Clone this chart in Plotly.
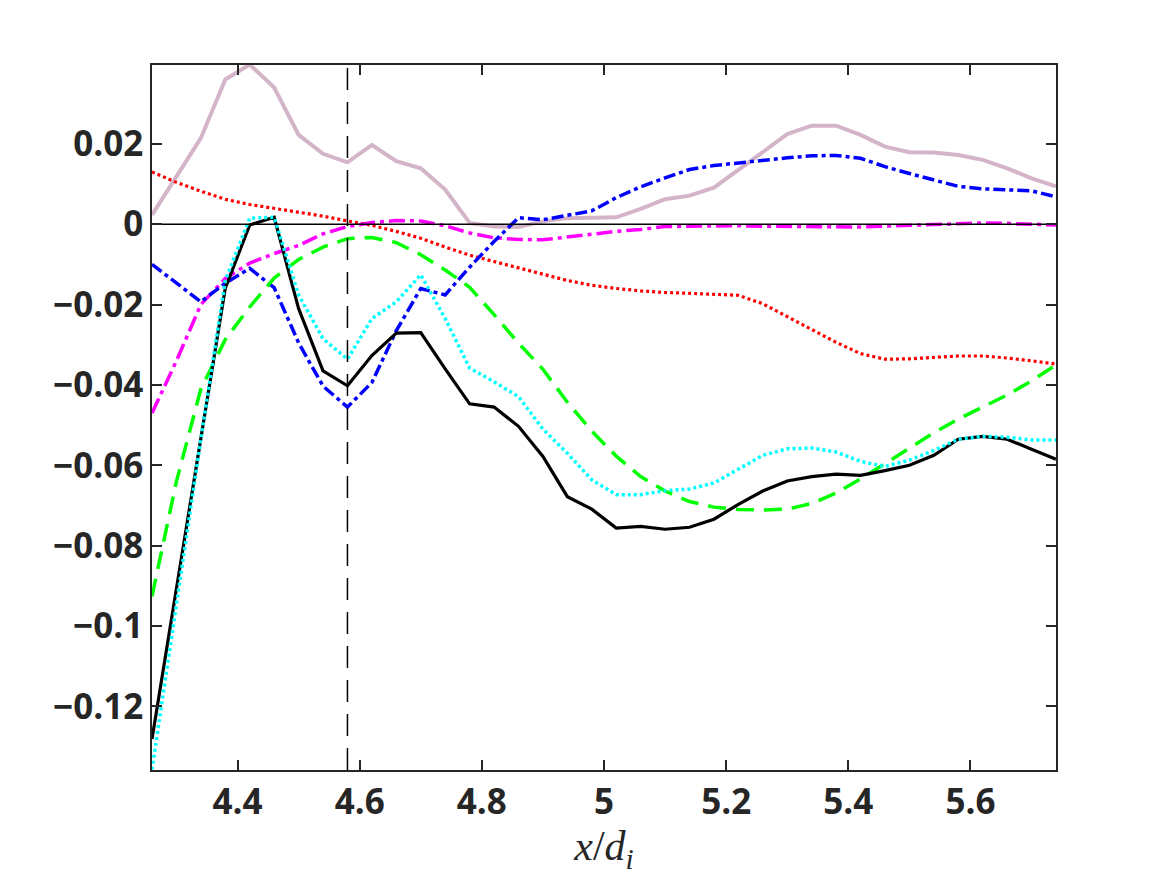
import plotly.graph_objects as go

x = [4.26, 4.30, 4.34, 4.38, 4.42, 4.46, 4.50, 4.54, 4.58, 4.62,
     4.66, 4.70, 4.74, 4.78, 4.82, 4.86, 4.90, 4.94, 4.98, 5.02,
     5.06, 5.10, 5.14, 5.18, 5.22, 5.26, 5.30, 5.34, 5.38, 5.42,
     5.46, 5.50, 5.54, 5.58, 5.62, 5.66, 5.70, 5.74]

pink = [0.0023, 0.0118, 0.0214, 0.0360, 0.0397, 0.0340, 0.0222, 0.0175, 0.0154, 0.0197,
        0.0157, 0.0139, 0.0086, 0.0003, -0.0006, -0.0007, 0.0007, 0.0015, 0.0016, 0.0017,
        0.0038, 0.0062, 0.0071, 0.0091, 0.0135, 0.0180, 0.0224, 0.0245, 0.0245, 0.0222,
        0.0193, 0.0179, 0.0178, 0.0172, 0.0160, 0.0139, 0.0114, 0.0094]

red = [0.0130, 0.0104, 0.0082, 0.0062, 0.0049, 0.0040, 0.0030, 0.0020, 0.0008, -0.0003,
       -0.0018, -0.0035, -0.0057, -0.0077, -0.0093, -0.0109, -0.0125, -0.0140, -0.0152, -0.0160,
       -0.0166, -0.0170, -0.0172, -0.0174, -0.0177, -0.0198, -0.0230, -0.0262, -0.0294, -0.0322,
       -0.0336, -0.0335, -0.0331, -0.0328, -0.0328, -0.0333, -0.0340, -0.0348]

magenta = [-0.0470, -0.0340, -0.0200, -0.0135, -0.0097, -0.0073, -0.0053, -0.0024, -0.0006, 0.0004,
           0.0009, 0.0008, -0.0004, -0.0022, -0.0034, -0.0038, -0.0039, -0.0032, -0.0024, -0.0018,
           -0.0013, -0.0006, -0.0005, -0.0004, -0.0004, -0.0005, -0.0006, -0.0007, -0.0008, -0.0007,
           -0.0005, -0.0003, 0.0000, 0.0003, 0.0003, 0.0002, 0.0000, -0.0002]

blue = [-0.0100, -0.0147, -0.0193, -0.0147, -0.0110, -0.0158, -0.0295, -0.0403, -0.0455, -0.0394,
        -0.0265, -0.0160, -0.0176, -0.0107, -0.0043, 0.0016, 0.0011, 0.0022, 0.0033, 0.0066,
        0.0093, 0.0115, 0.0136, 0.0146, 0.0153, 0.0158, 0.0165, 0.0170, 0.0171, 0.0164,
        0.0143, 0.0126, 0.0110, 0.0094, 0.0088, 0.0086, 0.0083, 0.0068]

green = [-0.0926, -0.0640, -0.0410, -0.0287, -0.0206, -0.0134, -0.0088, -0.0057, -0.0036, -0.0033,
         -0.0046, -0.0076, -0.0114, -0.0157, -0.0225, -0.0296, -0.0361, -0.0443, -0.0515, -0.0577,
         -0.0628, -0.0664, -0.0690, -0.0704, -0.0710, -0.0711, -0.0709, -0.0695, -0.0669, -0.0634,
         -0.0596, -0.0557, -0.0519, -0.0485, -0.0456, -0.0425, -0.0390, -0.0350]

black = [-0.1281, -0.0906, -0.0532, -0.0159, -0.0002, 0.0017, -0.0210, -0.0365, -0.0402, -0.0327,
         -0.0271, -0.0270, -0.0360, -0.0447, -0.0455, -0.0503, -0.0578, -0.0678, -0.0709, -0.0756,
         -0.0752, -0.0759, -0.0754, -0.0734, -0.0697, -0.0664, -0.0639, -0.0628, -0.0622, -0.0625,
         -0.0613, -0.0600, -0.0575, -0.0535, -0.0528, -0.0535, -0.0560, -0.0585]

cyan = [-0.1357, -0.0940, -0.0535, -0.0140, 0.0015, 0.0017, -0.0176, -0.0285, -0.0336, -0.0235,
        -0.0193, -0.0126, -0.0235, -0.0358, -0.0392, -0.0429, -0.0510, -0.0570, -0.0636, -0.0673,
        -0.0673, -0.0663, -0.0659, -0.0644, -0.0610, -0.0575, -0.0559, -0.0557, -0.0567, -0.0590,
        -0.0603, -0.0587, -0.0563, -0.0535, -0.0528, -0.0530, -0.0537, -0.0537]

x_mark = 4.58
x_range = [4.26, 5.74]
y_range = [-0.1358, 0.0396]

xtick_vals = [4.4, 4.6, 4.8, 5.0, 5.2, 5.4, 5.6]
xtick_text = ["4.4", "4.6", "4.8", "5", "5.2", "5.4", "5.6"]
ytick_vals = [-0.12, -0.10, -0.08, -0.06, -0.04, -0.02, 0.0, 0.02]
ytick_text = ["\u22120.12", "\u22120.1", "\u22120.08", "\u22120.06", "\u22120.04", "\u22120.02", "0", "0.02"]

fig = go.Figure()

series = [
    (pink, "#d4b4c9", "solid", 4),
    (red, "#ff0000", "3px,3px", 3.2),
    (magenta, "#ff00ff", "16px,5px,4px,5px", 3.5),
    (blue, "#0000ff", "12px,4px,4px,4px", 3.5),
    (green, "#00ff00", "18px,10px", 3.5),
    (black, "#000000", "solid", 3.2),
    (cyan, "#00ffff", "3px,3px", 3.5),
]
for ys, col, dash, w in series:
    fig.add_trace(go.Scatter(x=x, y=ys, mode="lines",
                             line=dict(color=col, width=w, dash=dash),
                             showlegend=False, hoverinfo="skip"))

# zero line and vertical marker
fig.add_trace(go.Scatter(x=x_range, y=[0, 0], mode="lines",
                         line=dict(color="#000000", width=1.5),
                         showlegend=False, hoverinfo="skip"))
fig.add_trace(go.Scatter(x=[x_mark, x_mark], y=y_range, mode="lines",
                         line=dict(color="#000000", width=1.5, dash="22px,12px"),
                         showlegend=False, hoverinfo="skip"))

axis_common = dict(
    showline=True, linecolor="#262626", linewidth=1.5, mirror="ticks",
    ticks="inside", ticklen=10, tickwidth=1.5, tickcolor="#262626",
    showgrid=False, zeroline=False,
    tickfont=dict(family="Open Sans", size=35, color="#262626", weight="bold"),
)

fig.update_layout(
    width=1167, height=875,
    margin=dict(l=152, r=111, t=65, b=105),
    paper_bgcolor="white", plot_bgcolor="white",
    xaxis=dict(range=x_range, tickvals=xtick_vals, ticktext=xtick_text,
               title=dict(text="<i>x</i>/<i>d</i><sub><i>i</i></sub>",
                          font=dict(family="Liberation Serif", size=42, color="#262626"),
                          standoff=4),
               **axis_common),
    yaxis=dict(range=y_range, tickvals=ytick_vals, ticktext=ytick_text, **axis_common),
)

fig.write_html("out.html")
